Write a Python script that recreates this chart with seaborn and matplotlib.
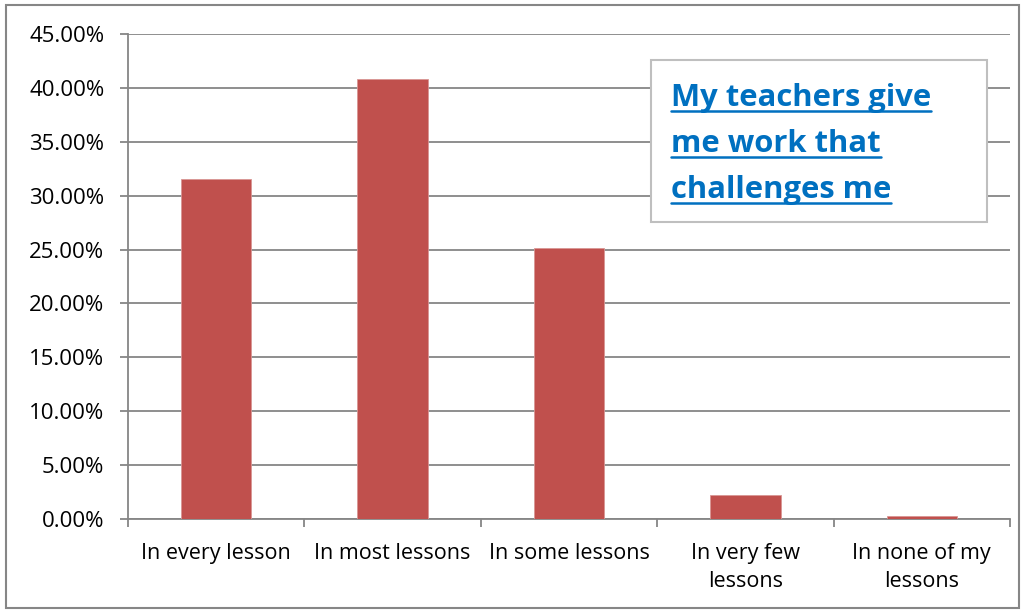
import matplotlib
matplotlib.use("Agg")
import matplotlib.pyplot as plt
import seaborn as sns
import pandas as pd
from matplotlib.patches import Rectangle
from matplotlib.lines import Line2D

categories = ["In every lesson", "In most lessons", "In some lessons",
              "In very few\nlessons", "In none of my\nlessons"]
values = [31.55, 40.8, 25.15, 2.2, 0.25]
yticks = [0, 5, 10, 15, 20, 25, 30, 35, 40, 45]
title_lines = ["My teachers give", "me work that", "challenges me"]

sns.set_theme(style="white")
plt.rcParams['font.family'] = ['Open Sans', 'DejaVu Sans']

df = pd.DataFrame({"cat": categories, "val": values})

fig = plt.figure(figsize=(10.25, 6.14), dpi=100)
ax = fig.add_axes([128/1025, 1-519/614, (1010-128)/1025, (519-34)/614])

sns.barplot(data=df, x="cat", y="val", color="#C0504D", width=0.4,
            saturation=1, ax=ax, zorder=3, edgecolor="#D99694", linewidth=0.6)

ax.set_ylim(0, 45)
ax.set_xlim(-0.5, len(categories) - 0.5)
ax.set_yticks(yticks)
ax.set_yticklabels([f"{v:.2f}%" for v in yticks], fontsize=16, color="#000000")
ax.set_xticks(range(len(categories)))
ax.set_xticklabels(categories, fontsize=15.5, color="#000000", linespacing=1.45)
ax.set_xlabel("")
ax.set_ylabel("")
ax.yaxis.grid(True, color="#868686", linewidth=1.3, zorder=0)
ax.set_axisbelow(True)

for s in ["top", "right"]:
    ax.spines[s].set_visible(False)
for s in ["left", "bottom"]:
    ax.spines[s].set_color("#868686")
    ax.spines[s].set_linewidth(1.3)

ax.tick_params(axis="y", which="major", length=6, width=1.3, color="#868686",
               direction="out", left=True, pad=11)
ax.tick_params(axis="x", which="major", length=0, pad=17)
# minor ticks at category boundaries
ax.set_xticks([i - 0.5 for i in range(len(categories) + 1)], minor=True)
ax.tick_params(axis="x", which="minor", length=6, width=1.3, color="#868686",
               direction="out", bottom=True)

# outer chart border
fig.patches.append(Rectangle((6/1025, 1-608/614), 1013/1025, 603/614,
                             transform=fig.transFigure, fill=False,
                             edgecolor="#868686", linewidth=1.5))

# title box
fig.patches.append(Rectangle((651/1025, 1-222/614), 336/1025, 162/614,
                             transform=fig.transFigure, facecolor="white",
                             edgecolor="#BFBFBF", linewidth=1.5, zorder=5))

texts = []
for i, line in enumerate(title_lines):
    t = fig.text(671/1025, 1-(106 + i*46)/614, line, fontsize=22.3,
                 fontweight="bold", color="#0070C0", va="baseline", ha="left",
                 zorder=6)
    texts.append(t)

fig.canvas.draw()
r = fig.canvas.get_renderer()
for i, t in enumerate(texts):
    bb = t.get_window_extent(renderer=r)
    y = 1 - (111 + i*46) / 614
    fig.lines.append(Line2D([bb.x0 / fig.bbox.width, bb.x1 / fig.bbox.width],
                            [y, y], transform=fig.transFigure,
                            color="#0070C0", linewidth=1.8, zorder=6))

fig.savefig("out.png", dpi=100)
